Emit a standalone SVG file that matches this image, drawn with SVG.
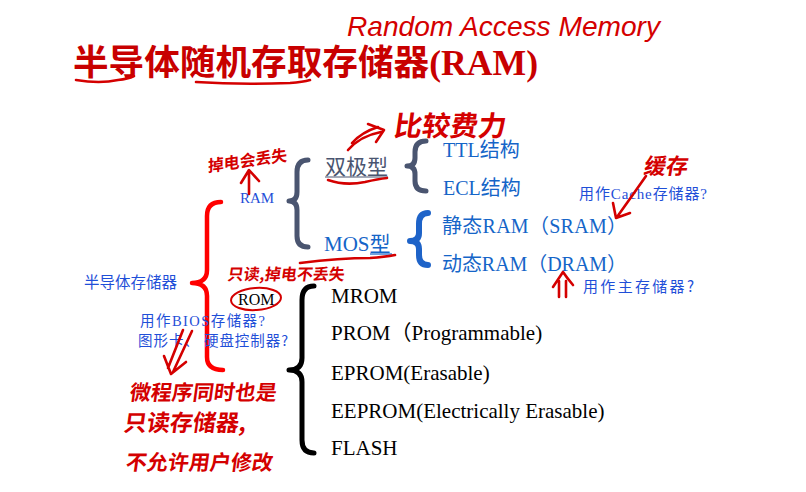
<svg xmlns="http://www.w3.org/2000/svg" width="806" height="492" viewBox="0 0 806 492">
<style>
.hw{fill:#d40000;font-family:"Noto Sans CJK SC",sans-serif;font-weight:700;}
.hwl{fill:none;stroke:#d40000;stroke-width:2.6;stroke-linecap:round;stroke-linejoin:round;}
.mix{font-family:"Liberation Serif","Noto Sans CJK SC",serif;}
.cjk{font-family:"Noto Sans CJK SC","Liberation Sans",sans-serif;}
.blue{fill:#1565c8;}
.lblue{fill:#1f4fd8;}
.brace{fill:none;stroke-linecap:round;stroke-linejoin:round;}
</style>
<rect width="806" height="492" fill="#ffffff"/>

<g id="title">
<text x="73" y="75" font-size="35" font-weight="bold" fill="#c80000" class="mix" textLength="465" lengthAdjust="spacingAndGlyphs">半导体随机存取存储器(RAM)</text>
</g>

<g id="connectors">
<path class="brace" stroke="#ff0000" stroke-width="4.5" d="M221,202 Q207,202 207,216 L207,270 Q207,283 192,283 Q207,283 207,296 L207,357 Q207,370 223,370"/>
<path class="brace" stroke="#4a5570" stroke-width="5" d="M308,160 Q297,160 297,172 L297,192 Q297,201 289,201 Q297,201 297,210 L297,236 Q297,247 308,247"/>
<path class="brace" stroke="#4a5570" stroke-width="5" d="M426,141 Q415,141 415,152 L415,158 Q415,166 407,166 Q415,166 415,174 L415,181 Q415,191 426,191"/>
<path class="brace" stroke="#1e63c8" stroke-width="6" d="M428,213 Q419,213 419,224 L419,233 Q419,241 410,241 Q419,241 419,249 L419,255 Q419,265 428,265"/>
<path class="brace" stroke="#000000" stroke-width="5" d="M314,286 Q302,286 302,300 L302,358 Q302,370 289,370 Q302,370 302,382 L302,440 Q302,453 314,453"/>
</g>

<g id="node-semiconductor">
<text x="84" y="288" font-size="15.5" class="cjk lblue">半导体存储器</text>
</g>
<g id="node-ram">
<text x="240" y="203" font-size="15" class="mix lblue">RAM</text>
</g>
<g id="node-bipolar">
<text x="325" y="174" font-size="21" class="cjk" fill="#4a5570">双极型</text>
<line x1="325" y1="177" x2="388" y2="177" stroke="#4a5570" stroke-width="1.2"/>
</g>
<g id="node-ttl">
<text x="443" y="157" font-size="20" class="mix blue">TTL结构</text>
</g>
<g id="node-ecl">
<text x="443" y="195" font-size="20" class="mix blue">ECL结构</text>
</g>
<g id="node-mos">
<text x="324" y="251" font-size="21" class="mix blue">MOS型</text>
<line x1="370" y1="254" x2="392" y2="254" stroke="#1565c8" stroke-width="1.2"/>
</g>
<g id="node-sram">
<text x="442" y="233" font-size="20" class="mix blue" textLength="185" lengthAdjust="spacing">静态RAM（SRAM）</text>
</g>
<g id="node-dram">
<text x="442" y="271" font-size="20" class="mix blue" textLength="185" lengthAdjust="spacing">动态RAM（DRAM）</text>
</g>
<g id="node-rom">
<text x="238" y="305" font-size="16" class="mix" fill="#000000">ROM</text>
</g>
<g id="node-mrom"><text x="331" y="303" font-size="21" class="mix" fill="#000">MROM</text></g>
<g id="node-prom"><text x="331" y="340" font-size="21" class="mix" fill="#000">PROM（Programmable)</text></g>
<g id="node-eprom"><text x="331" y="380" font-size="21" class="mix" fill="#000">EPROM(Erasable)</text></g>
<g id="node-eeprom"><text x="331" y="418" font-size="21" class="mix" fill="#000">EEPROM(Electrically Erasable)</text></g>
<g id="node-flash"><text x="331" y="455" font-size="21" class="mix" fill="#000">FLASH</text></g>

<g id="notes">
<text x="579" y="199" font-size="15" class="mix lblue" textLength="128" lengthAdjust="spacing">用作Cache存储器?</text>
<text x="583" y="292" font-size="15" class="cjk lblue" textLength="111" lengthAdjust="spacing">用作主存储器?</text>
<text x="140" y="326" font-size="14.5" class="mix lblue" textLength="125" lengthAdjust="spacing">用作BIOS存储器?</text>
<text x="138" y="346" font-size="14.5" class="cjk lblue" textLength="150" lengthAdjust="spacing">图形卡、 硬盘控制器?</text>
</g>

<g id="annotations">
<text x="347" y="36" font-size="28" font-style="italic" font-family="Liberation Sans, sans-serif" fill="#d40000" textLength="313" lengthAdjust="spacingAndGlyphs">Random Access Memory</text>
<path class="hwl" stroke-width="3" d="M76,80 Q100,84 118,80 Q128,79 134,76"/>
<path class="hwl" stroke-width="3" d="M196,82 Q240,85 290,83 Q303,82 310,80"/>
<text class="hw" x="0" y="0" font-size="28" transform="translate(393,136) skewX(-8)">比较费力</text>
<path class="hwl" d="M348,150 Q360,136 381,132"/>
<path class="hwl" d="M352,143 Q362,132 378,127"/>
<path class="hwl" d="M368,124 L384,130 L376,142"/>
<path class="hwl" d="M328,180 Q345,186 365,182 Q378,179 387,178"/>
<text class="hw" x="0" y="0" font-size="16" transform="translate(208,172) rotate(-8) skewX(-8)">掉电会丢失</text>
<path class="hwl" d="M249,194 L249,172 M241,183 L249,170 L259,181"/>
<text class="hw" x="0" y="0" font-size="22" transform="translate(643,174) skewX(-10)">缓存</text>
<path class="hwl" d="M646,176 Q632,196 617,217 M613,203 L616,218 L630,213"/>
<path class="hwl" d="M559,297 L559,281 M566,297 L566,281 M553,287 Q559,278 563,272 Q567,278 573,285"/>
<path class="hwl" d="M300,263 Q340,258 370,258 Q385,257 395,255"/>
<text class="hw" x="0" y="0" font-size="16" transform="translate(227,280) skewX(-8)">只读,掉电不丢失</text>
<ellipse cx="256" cy="299" rx="25" ry="11" fill="none" stroke="#d40000" stroke-width="2" transform="rotate(-4 256 299)"/>
<path class="hwl" d="M192,331 L173,372 M183,330 L168,368 M164,356 L171,374 L186,362"/>
<text class="hw" x="0" y="0" font-size="21" transform="translate(129,400) skewX(-8)">微程序同时也是</text>
<text class="hw" x="0" y="0" font-size="23" transform="translate(123,431) skewX(-8)">只读存储器,</text>
<text class="hw" x="0" y="0" font-size="21" transform="translate(125,470) skewX(-8)">不允许用户修改</text>
</g>
</svg>
